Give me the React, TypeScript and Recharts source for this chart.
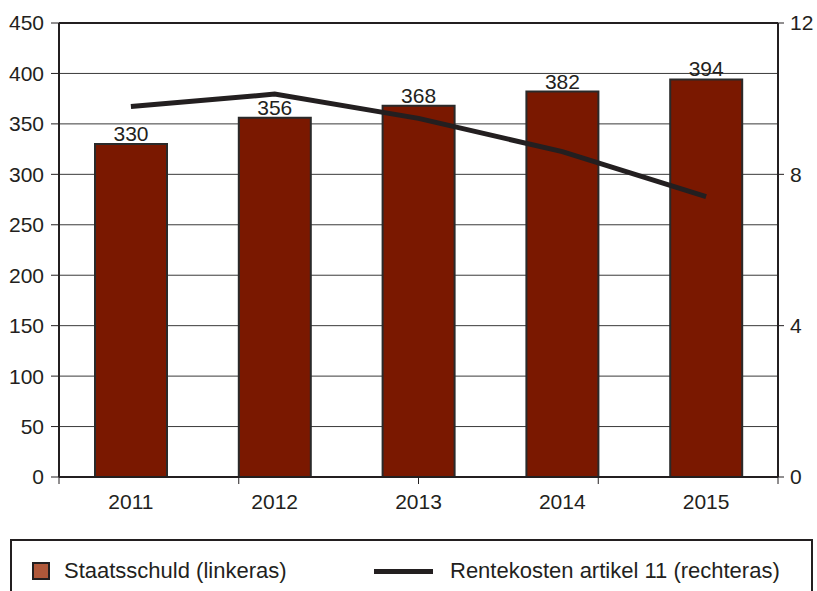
import { Bar, CartesianGrid, ComposedChart, LabelList, Legend, Line, ReferenceLine, XAxis, YAxis } from "recharts";

const years = ["2011", "2012", "2013", "2014", "2015"];
const staatsschuld = [330, 356, 368, 382, 394];
const rentekosten = [9.79, 10.12, 9.48, 8.6, 7.41];
const leftTicks = [0, 50, 100, 150, 200, 250, 300, 350, 400, 450];
const rightTicks = [0, 4, 8, 12];
const edgeTicks = [0, 1, 2, 3, 4, 5];

const INK = "#231f20";
const FONT = "'Liberation Sans', Arial, sans-serif";

function LegendBox() {
  return (
    <div
      style={{
        boxSizing: "border-box",
        height: 60,
        border: `2px solid ${INK}`,
        display: "flex",
        alignItems: "flex-start",
        paddingTop: 17,
        fontFamily: FONT,
        fontSize: 22,
        color: INK,
      }}
    >
      <div style={{ display: "flex", alignItems: "center", marginLeft: 20, width: 342 }}>
        <span style={{ display: "inline-block", width: 14, height: 14, background: "#b0583a", border: `2px solid ${INK}`, marginRight: 14 }} />
        <span>Staatsschuld (linkeras)</span>
      </div>
      <div style={{ display: "flex", alignItems: "center" }}>
        <span style={{ display: "inline-block", width: 59, height: 5, background: INK, marginRight: 17 }} />
        <span>Rentekosten artikel 11 (rechteras)</span>
      </div>
    </div>
  );
}

export default function App() {
  const data = years.map((year, i) => ({ year, schuld: staatsschuld[i], rente: rentekosten[i] }));
  return (
    <div style={{ position: "absolute", left: 0, top: 0, width: 817, height: 591, fontFamily: FONT }}>
      <ComposedChart width={817} height={591} data={data} margin={{ top: 23, right: 0, left: 0, bottom: 20 }}>
        <CartesianGrid yAxisId="left" xAxisId="b" vertical={false} stroke="#3a3a3a" strokeWidth={1} />
        <XAxis
          xAxisId="b"
          dataKey="year"
          height={33}
          axisLine={false}
          tickLine={false}
          tickSize={0}
          tickMargin={16}
          tick={{ fill: INK, fontSize: 21 }}
        />
        <XAxis
          xAxisId="a"
          type="number"
          domain={[0, 5]}
          ticks={edgeTicks}
          allowDataOverflow
          height={1}
          tick={() => <g />}
          tickSize={7}
          axisLine={{ stroke: INK, strokeWidth: 2 }}
          tickLine={{ stroke: INK, strokeWidth: 1 }}
        />
        <YAxis
          yAxisId="left"
          domain={[0, 450]}
          ticks={leftTicks}
          width={59}
          tickSize={8}
          tickMargin={7}
          axisLine={{ stroke: INK, strokeWidth: 2 }}
          tickLine={{ stroke: INK }}
          tick={{ fill: INK, fontSize: 21 }}
        />
        <YAxis
          yAxisId="right"
          orientation="right"
          domain={[0, 12]}
          ticks={rightTicks}
          width={39}
          tickSize={6}
          tickMargin={6}
          axisLine={{ stroke: INK, strokeWidth: 2 }}
          tickLine={{ stroke: INK }}
          tick={{ fill: INK, fontSize: 21 }}
        />
        <ReferenceLine yAxisId="left" xAxisId="b" y={450} stroke={INK} strokeWidth={2} />
        <Bar
          xAxisId="b"
          yAxisId="left"
          dataKey="schuld"
          barSize={72}
          fill="#7a1800"
          stroke="#2a2a2a"
          strokeWidth={2}
          isAnimationActive={false}
        >
          <LabelList dataKey="schuld" position="top" offset={3} fill={INK} fontSize={21} />
        </Bar>
        <Line
          xAxisId="b"
          yAxisId="right"
          dataKey="rente"
          type="linear"
          stroke={INK}
          strokeWidth={5}
          dot={false}
          activeDot={false}
          isAnimationActive={false}
        />
        <Legend
          verticalAlign="bottom"
          content={() => <LegendBox />}
          wrapperStyle={{ left: 10, top: 539, width: 803, height: 60 }}
        />
      </ComposedChart>
    </div>
  );
}
